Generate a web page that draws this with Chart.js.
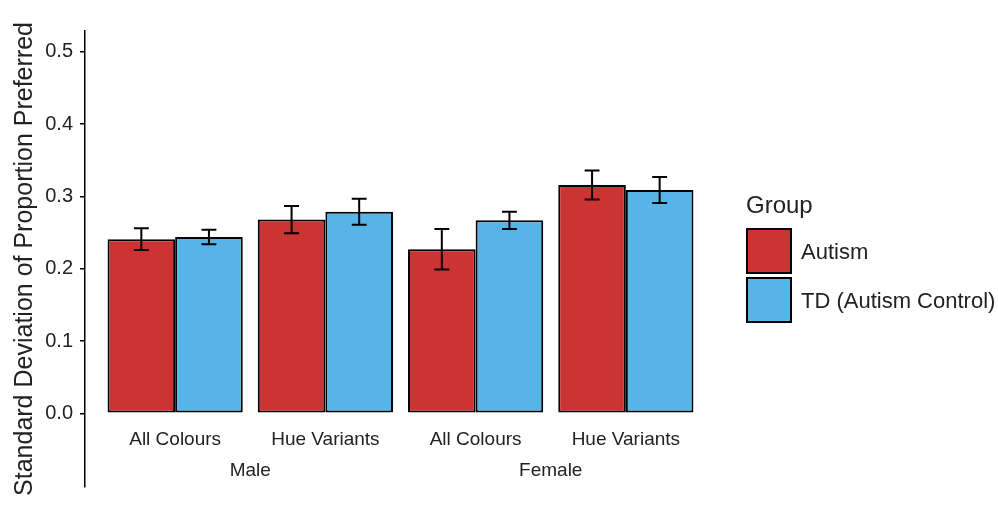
<!DOCTYPE html>
<html>
<head>
<meta charset="utf-8">
<script src="https://cdn.jsdelivr.net/npm/chart.js@4"></script>
<style>
  html, body { margin: 0; padding: 0; background: #fff; }
  #wrap { width: 998px; height: 506px; }
</style>
</head>
<body>
<div id="wrap"><canvas id="chart"></canvas></div>
<script>
// data
const categories = ['All Colours', 'Hue Variants', 'All Colours', 'Hue Variants'];
const groups = ['Male', 'Female'];
const autism = [0.241, 0.268, 0.227, 0.316];
const autismErr = [0.015, 0.019, 0.028, 0.020];
const td = [0.244, 0.279, 0.267, 0.309];
const tdErr = [0.010, 0.018, 0.012, 0.018];
const yTicks = [0, 0.1, 0.2, 0.3, 0.4, 0.5];

const FONT = "'Liberation Sans', Arial, sans-serif";
const TEXT = '#222';

const toPoints = (vals) => vals.map((v, i) => ({ x: i + 1, y: v }));

// error bars, drawn over the bars through the scales
const errorBars = {
  id: 'errorBars',
  afterDatasetsDraw(chart) {
    const ctx = chart.ctx;
    const y = chart.scales.y;
    const errs = [autismErr, tdErr];
    ctx.save();
    ctx.strokeStyle = '#000';
    ctx.lineWidth = 2;
    chart.data.datasets.forEach((ds, di) => {
      const meta = chart.getDatasetMeta(di);
      meta.data.forEach((bar, i) => {
        const v = ds.data[i].y;
        const e = errs[di][i];
        const top = y.getPixelForValue(v + e);
        const bot = y.getPixelForValue(v - e);
        const half = bar.width * 0.11;
        ctx.beginPath();
        ctx.moveTo(bar.x, top); ctx.lineTo(bar.x, bot);
        ctx.moveTo(bar.x - half, top); ctx.lineTo(bar.x + half, top);
        ctx.moveTo(bar.x - half, bot); ctx.lineTo(bar.x + half, bot);
        ctx.stroke();
      });
    });
    ctx.restore();
  }
};

// category and group labels sit inside the panel below zero, like the original annotations
const panelLabels = {
  id: 'panelLabels',
  afterDraw(chart) {
    const ctx = chart.ctx;
    const x = chart.scales.x, y = chart.scales.y;
    ctx.save();
    ctx.fillStyle = TEXT;
    ctx.font = '19px ' + FONT;
    ctx.textAlign = 'center';
    ctx.textBaseline = 'middle';
    categories.forEach((c, i) => {
      ctx.fillText(c, x.getPixelForValue(i + 1), y.getPixelForValue(-0.037));
    });
    groups.forEach((g, i) => {
      ctx.fillText(g, x.getPixelForValue(i * 2 + 1.5), y.getPixelForValue(-0.080));
    });

    // legend
    const lx = chart.chartArea.right + 30;
    ctx.textAlign = 'left';
    ctx.font = '24px ' + FONT;
    ctx.fillText('Group', lx, 206);
    ctx.font = '22px ' + FONT;
    chart.data.datasets.forEach((ds, i) => {
      const top = 228 + i * 49;
      ctx.fillStyle = ds.backgroundColor;
      ctx.fillRect(lx, top, 46, 46);
      ctx.strokeStyle = '#000';
      ctx.lineWidth = 2;
      ctx.strokeRect(lx + 1, top + 1, 44, 44);
      ctx.fillStyle = TEXT;
      ctx.fillText(ds.label, lx + 55, top + 25);
    });
    ctx.restore();
  }
};

new Chart(document.getElementById('chart'), {
  type: 'bar',
  data: {
    datasets: [
      {
        label: 'Autism',
        data: toPoints(autism),
        backgroundColor: '#CC3333',
        borderColor: '#000',
        borderWidth: 2,
        borderSkipped: false,
      },
      {
        label: 'TD (Autism Control)',
        data: toPoints(td),
        backgroundColor: '#56B4E9',
        borderColor: '#000',
        borderWidth: 2,
        borderSkipped: false,
      },
    ],
  },
  options: {
    responsive: true,
    maintainAspectRatio: false,
    animation: false,
    datasets: { bar: { categoryPercentage: 0.9, barPercentage: 1.0 } },
    layout: { padding: { top: 31, bottom: 19, right: 282, left: 0 } },
    plugins: {
      legend: { display: false },
      tooltip: { enabled: false },
    },
    scales: {
      x: {
        type: 'linear',
        min: 0.4,
        max: 4.6,
        offset: false,
        display: false,
        afterBuildTicks: (axis) => { axis.ticks = categories.map((c, i) => ({ value: i + 1 })); },
      },
      y: {
        min: -0.102,
        max: 0.529,
        afterBuildTicks: (axis) => { axis.ticks = yTicks.map(v => ({ value: v })); },
        afterFit: (axis) => { axis.width = 85; },
        ticks: {
          color: TEXT,
          font: { family: FONT, size: 20 },
          padding: 7,
          callback: (v) => Number(v).toFixed(1),
        },
        grid: {
          display: true,
          drawOnChartArea: false,
          drawTicks: true,
          tickLength: 5,
          color: '#000',
          lineWidth: 1.5,
        },
        border: { display: true, color: '#000', width: 1.5 },
        title: {
          display: true,
          text: 'Standard Deviation of Proportion Preferred',
          color: TEXT,
          font: { family: FONT, size: 25 },
          padding: { top: 10, bottom: 0 },
        },
      },
    },
  },
  plugins: [errorBars, panelLabels],
});
</script>
</body>
</html>
